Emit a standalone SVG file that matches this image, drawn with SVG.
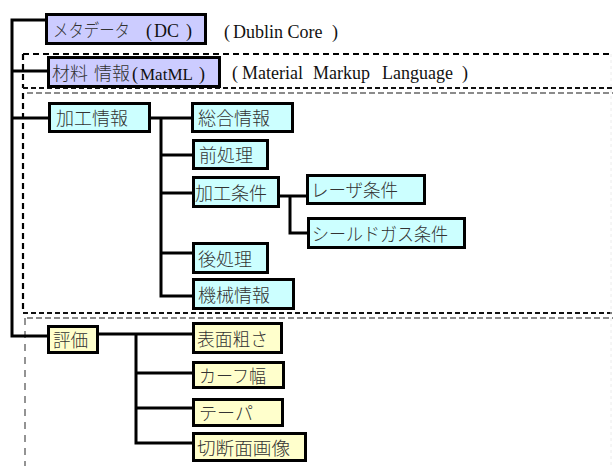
<svg xmlns="http://www.w3.org/2000/svg" width="613" height="466" viewBox="0 0 613 466">
<style>
.box rect{stroke:#000;stroke-width:3}
.lav{fill:#ccccff}
.cyan{fill:#ccffff}
.yel{fill:#ffffcc}
.jp{font-family:"Noto Sans CJK JP","Noto Sans CJK SC",sans-serif;font-size:18px;font-weight:300;fill:#333}
.ser{font-family:"Liberation Serif",serif;font-size:18px;fill:#111}
.conn path{fill:none;stroke:#000;stroke-width:3}
.dk{fill:none;stroke:#000;stroke-width:2.2;stroke-dasharray:6 4}
.dk2{fill:none;stroke:#111;stroke-width:1.8;stroke-dasharray:5 3}
.gr{fill:none;stroke:#666;stroke-width:1.4;stroke-dasharray:6 3}
.gr2{fill:none;stroke:#666;stroke-width:1.4;stroke-dasharray:7 6}
</style>
<rect width="613" height="466" fill="#fff"/>
<g id="frames">
<path class="dk" d="M23,54 H613"/>
<path class="dk" d="M23,54 V88"/>
<path class="dk2" d="M23,88 H613"/>
<path class="gr" d="M27,93 H613"/>
<path class="dk" d="M23,93 V313"/>
<path class="dk2" d="M23,313 H613"/>
<path class="gr" d="M27,318 H613"/>
<path class="gr2" d="M25,318 V466"/>
<path d="M611,54 V466" stroke="#ececec" stroke-width="1" stroke-dasharray="3 3" fill="none"/>
</g>
<g id="connectors" class="conn">
<path d="M45,20 H12 V336 H47"/>
<path d="M12,71 H47"/>
<path d="M12,118 H48"/>
<path d="M151,118 H191"/>
<path d="M161,118 V296 H192"/>
<path d="M161,155 H192"/>
<path d="M161,193 H192"/>
<path d="M161,253 H192"/>
<path d="M280,196 H306"/>
<path d="M290,196 V233 H307"/>
<path d="M99,334 H192"/>
<path d="M136,334 V443 H192"/>
<path d="M136,373 H192"/>
<path d="M136,408 H192"/>
</g>
<g id="n-meta" class="box">
<rect class="lav" x="46.5" y="14.5" width="159" height="29"/>
<text class="jp" x="53" y="37" textLength="77" lengthAdjust="spacingAndGlyphs">メタデータ</text>
<text class="ser" x="146" y="37">(</text>
<text class="ser" x="154" y="37">DC</text>
<text class="ser" x="186" y="37">)</text>
</g>
<text class="ser" x="224" y="38">(</text>
<text class="ser" x="233" y="38">Dublin Core</text>
<text class="ser" x="332" y="38">)</text>
<g id="n-matml" class="box">
<rect class="lav" x="48.5" y="57.5" width="171" height="29"/>
<text class="jp" x="52" y="80">材料</text>
<text class="jp" x="94" y="80">情報</text>
<text class="ser" x="132" y="80">(</text>
<text class="ser" x="140" y="80" style="font-size:17px">MatML</text>
<text class="ser" x="199" y="80">)</text>
</g>
<text class="ser" x="232" y="79">(</text>
<text class="ser" x="242" y="79">Material</text>
<text class="ser" x="313" y="79">Markup</text>
<text class="ser" x="382" y="79">Language</text>
<text class="ser" x="462" y="79">)</text>
<g id="n-kakou" class="box">
<rect class="cyan" x="49.5" y="103.5" width="100" height="28"/>
<text class="jp" x="56" y="125">加工情報</text>
</g>
<g id="n-sougou" class="box">
<rect class="cyan" x="192.5" y="103.5" width="100" height="28"/>
<text class="jp" x="198" y="125">総合情報</text>
</g>
<g id="n-maeshori" class="box">
<rect class="cyan" x="193.5" y="140.5" width="74" height="28"/>
<text class="jp" x="199" y="162">前処理</text>
</g>
<g id="n-jouken" class="box">
<rect class="cyan" x="193.5" y="177.5" width="85" height="29"/>
<text class="jp" x="195" y="200">加工条件</text>
</g>
<g id="n-laser" class="box">
<rect class="cyan" x="307.5" y="175.5" width="117" height="28"/>
<text class="jp" x="311" y="197" textLength="87" lengthAdjust="spacingAndGlyphs">レーザ条件</text>
</g>
<g id="n-shield" class="box">
<rect class="cyan" x="308.5" y="218.5" width="156" height="29"/>
<text class="jp" x="312" y="241" textLength="136" lengthAdjust="spacingAndGlyphs">シールドガス条件</text>
</g>
<g id="n-atoshori" class="box">
<rect class="cyan" x="193.5" y="243.5" width="74" height="29"/>
<text class="jp" x="198" y="266">後処理</text>
</g>
<g id="n-kikai" class="box">
<rect class="cyan" x="193.5" y="279.5" width="100" height="29"/>
<text class="jp" x="198" y="302">機械情報</text>
</g>
<g id="n-hyouka" class="box">
<rect class="yel" x="48.5" y="326.5" width="49" height="26"/>
<text class="jp" x="53" y="347" textLength="35" lengthAdjust="spacingAndGlyphs">評価</text>
</g>
<g id="n-hyoumen" class="box">
<rect class="yel" x="193.5" y="323.5" width="88" height="29"/>
<text class="jp" x="197" y="346" textLength="71" lengthAdjust="spacingAndGlyphs">表面粗さ</text>
</g>
<g id="n-kafu" class="box">
<rect class="yel" x="193.5" y="362.5" width="90" height="25"/>
<text class="jp" x="199" y="383" textLength="67" lengthAdjust="spacingAndGlyphs">カーフ幅</text>
</g>
<g id="n-tepa" class="box">
<rect class="yel" x="193.5" y="399.5" width="89" height="26"/>
<text class="jp" x="199" y="420" textLength="54" lengthAdjust="spacingAndGlyphs">テーパ</text>
</g>
<g id="n-setsudan" class="box">
<rect class="yel" x="193.5" y="433.5" width="112" height="27"/>
<text class="jp" x="197" y="455" textLength="93" lengthAdjust="spacingAndGlyphs">切断面画像</text>
</g>
</svg>
